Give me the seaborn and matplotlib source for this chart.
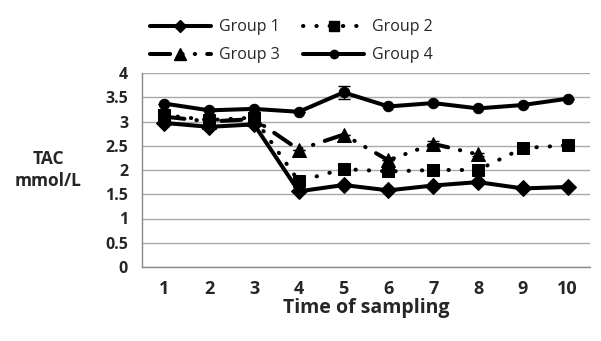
import matplotlib

matplotlib.use("Agg")
import matplotlib.pyplot as plt
from matplotlib.lines import Line2D
import numpy as np
import pandas as pd
import seaborn as sns

times = [1, 2, 3, 4, 5, 6, 7, 8, 9, 10]
group_1 = [2.97, 2.89, 2.94, 1.56, 1.69, 1.58, 1.68, 1.75, 1.62, 1.65]
group_2 = [3.13, 3.03, 3.08, 1.77, 2.02, 1.97, 2.00, 2.00, 2.45, 2.51]
group_3 = [3.10, 3.00, 3.05, 2.42, 2.73, 2.20, 2.54, 2.32]
group_4 = [3.37, 3.23, 3.26, 3.20, 3.60, 3.31, 3.38, 3.27, 3.34, 3.47]
group_4_err = [0, 0, 0, 0, 0.13, 0, 0, 0, 0, 0]
group_3_err = [0, 0, 0, 0, 0, 0, 0.06, 0.03]

frames = []
for name, vals in [("Group 1", group_1), ("Group 2", group_2),
                   ("Group 3", group_3), ("Group 4", group_4)]:
    frames.append(pd.DataFrame({"time": times[:len(vals)], "tac": vals, "group": name}))
df = pd.concat(frames, ignore_index=True)

sns.set_style("white")
plt.rcParams["font.family"] = ["Open Sans", "DejaVu Sans"]

LW = 2.9
styles = {
    "Group 1": dict(ls="-", marker="D", ms=8),
    "Group 2": dict(ls=(0, (0.1, 3.2)), marker="s", ms=9),
    "Group 3": dict(ls=(0, (5, 3, 0.1, 3, 0.1, 3)), marker="^", ms=10),
    "Group 4": dict(ls="-", marker="o", ms=7.5),
}

fig = plt.figure(figsize=(6.01, 3.41), dpi=100)
ax = fig.add_axes([142 / 601, 1 - 267 / 341, 448 / 601, 194 / 341])

for name, st in styles.items():
    sub = df[df["group"] == name]
    sns.lineplot(data=sub, x="time", y="tac", ax=ax, color="black", lw=LW,
                 linestyle=st["ls"], marker=st["marker"], markersize=st["ms"],
                 markeredgecolor="black", dash_capstyle="round", solid_capstyle="round",
                 legend=False)

ax.errorbar(times, group_4, yerr=group_4_err, fmt="none", ecolor="black", capsize=4, lw=1)
ax.errorbar(times[:len(group_3)], group_3, yerr=group_3_err, fmt="none", ecolor="black",
            capsize=4, lw=1)

ax.set_xlim(0.5, 10.5)
ax.set_ylim(0, 4)
ax.set_yticks(np.arange(0, 4.01, 0.5))
ax.set_yticklabels(["0", "0.5", "1", "1.5", "2", "2.5", "3", "3.5", "4"],
                   fontsize=11.5, fontweight="bold")
ax.set_xticks(times)
ax.set_xticklabels([str(t) for t in times], fontsize=13, fontweight="bold")
ax.set_xticks(np.arange(0.5, 10.6, 1), minor=True)
ax.tick_params(axis="x", which="major", length=0, pad=9)
ax.tick_params(axis="x", which="minor", length=6, color="#888888", width=1)
ax.tick_params(axis="y", length=6, color="#888888", width=1, pad=4)
ax.grid(axis="y", color="#aaaaaa", lw=1)
ax.set_axisbelow(True)
for s in ["top", "right"]:
    ax.spines[s].set_visible(False)
for s in ["left", "bottom"]:
    ax.spines[s].set_color("#888888")
    ax.spines[s].set_linewidth(1)

ax.set_xlabel("Time of sampling", fontsize=14, fontweight="bold", labelpad=0)
ax.set_ylabel("")
fig.text(48 / 601, 1 - 170 / 341, "TAC\nmmol/L", ha="center", va="center",
         fontsize=12.5, fontweight="bold", linespacing=1.25)

handles = {name: Line2D([0], [0], color="black", lw=LW, linestyle=st["ls"],
                        marker=st["marker"], markersize=st["ms"] * 0.8,
                        dash_capstyle="round", solid_capstyle="round")
           for name, st in styles.items()}
order = ["Group 1", "Group 3", "Group 2", "Group 4"]
fig.legend([handles[k] for k in order], order, loc="upper center",
           bbox_to_anchor=(0.485, 0.985), ncol=2, frameon=False, fontsize=11.5,
           handlelength=3.8, columnspacing=1.5, labelspacing=0.75, handletextpad=0.5)

fig.savefig("out.png", dpi=100)
